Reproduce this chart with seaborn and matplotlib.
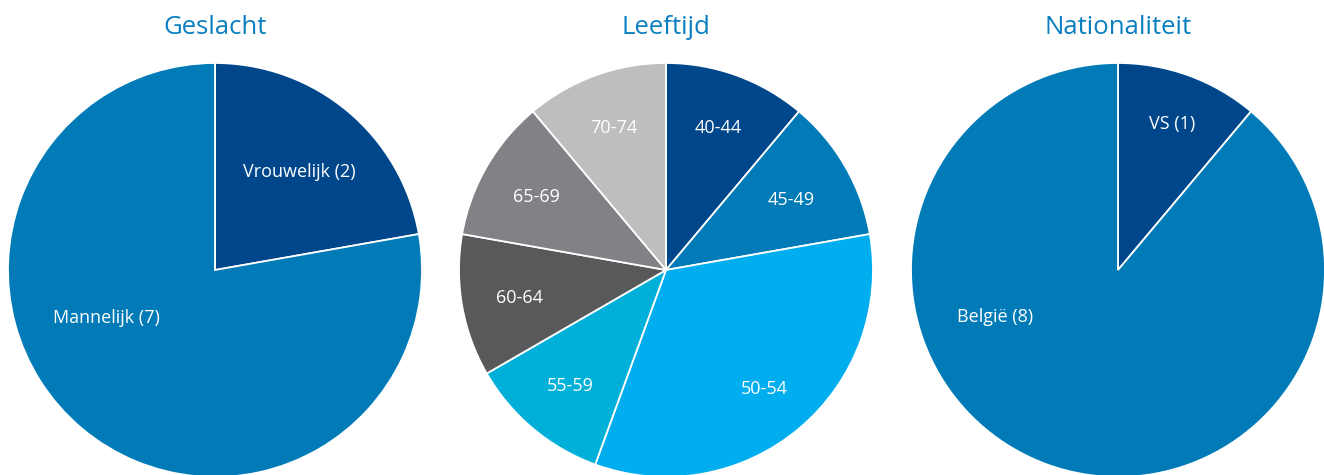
import numpy as np
import matplotlib
matplotlib.use("Agg")
import matplotlib.pyplot as plt
import seaborn as sns

# Board composition
gender_labels = ["Vrouwelijk (2)", "Mannelijk (7)"]
gender_counts = [2, 7]

age_labels = ["40-44", "45-49", "50-54", "55-59", "60-64", "65-69", "70-74"]
age_counts = [1, 1, 3, 1, 1, 1, 1]

nat_labels = ["VS (1)", "België (8)"]
nat_counts = [1, 8]

titles = ["Geslacht", "Leeftijd", "Nationaliteit"]

sns.set_theme(style="white")
plt.rcParams["font.family"] = ["Open Sans", "DejaVu Sans"]

DARK_BLUE = "#00468b"
MID_BLUE = "#007bb8"
LIGHT_BLUE = "#00aeef"
CYAN = "#00b0d8"
DARK_GREY = "#58595b"
GREY = "#808285"
LIGHT_GREY = "#bcbec0"
TITLE_BLUE = "#0a7fc0"

gender_colors = sns.color_palette([DARK_BLUE, MID_BLUE])
age_colors = sns.color_palette([DARK_BLUE, MID_BLUE, LIGHT_BLUE, CYAN,
                                DARK_GREY, GREY, LIGHT_GREY])
nat_colors = sns.color_palette([DARK_BLUE, MID_BLUE])

W, H = 1324, 475
fig = plt.figure(figsize=(W / 100, H / 100), dpi=100)
ax = fig.add_axes([0, 0, 1, 1])

R = 207
cy = H - 270
centers = [215, 666, 1118]

# (counts, labels, colors, label placement overrides as (angle, radius fraction))
pies = [
    (gender_counts, gender_labels, gender_colors, {0: (50, 0.63), 1: (203, 0.57)}),
    (age_counts, age_labels, age_colors, {1: (30, 0.70), 3: (-130, 0.72),
                                          4: (-170, 0.72), 5: (-210, 0.72)}),
    (nat_counts, nat_labels, nat_colors, {0: (70, 0.76), 1: (200, 0.63)}),
]

for cx, title, (counts, labels, colors, overrides) in zip(centers, titles, pies):
    ax.pie(counts, colors=colors, startangle=90, counterclock=False,
           center=(cx, cy), radius=R, frame=True,
           wedgeprops=dict(edgecolor="white", linewidth=1.3))
    total = sum(counts)
    start = 90.0
    for i, (lab, c) in enumerate(zip(labels, counts)):
        span = 360.0 * c / total
        mid = start - span / 2
        dist = 0.74
        if i in overrides:
            mid, dist = overrides[i]
        start -= span
        a = np.deg2rad(mid)
        ax.text(cx + dist * R * np.cos(a), cy + dist * R * np.sin(a), lab,
                ha="center", va="center_baseline", color="white", fontsize=13)
    ax.text(cx, H - 25, title, ha="center", va="center_baseline",
            color=TITLE_BLUE, fontsize=18.5)

ax.set_xlim(0, W)
ax.set_ylim(0, H)
ax.set_aspect("equal")
ax.axis("off")

fig.savefig("out.png", dpi=100, facecolor="white")
